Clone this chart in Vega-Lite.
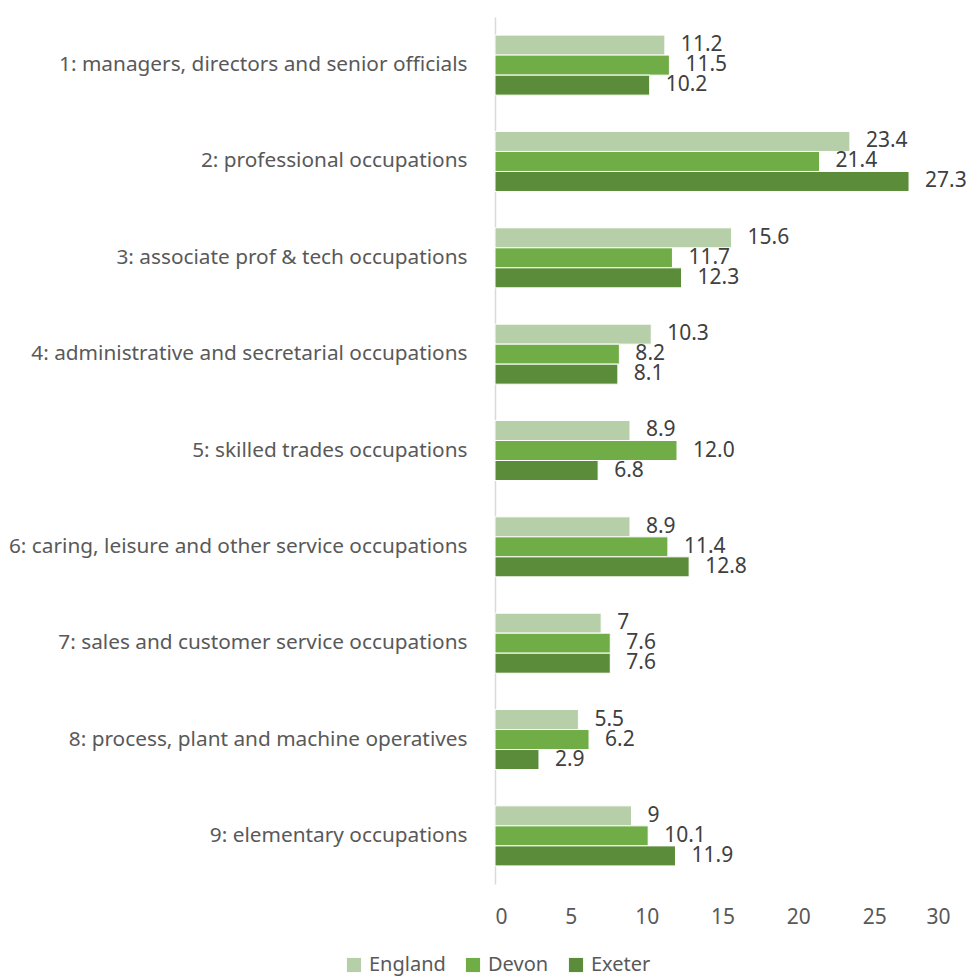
{
  "$schema": "https://vega.github.io/schema/vega-lite/v6.json",
  "width": 455,
  "height": 867,
  "autosize": "none",
  "padding": {"left": 495, "top": 17, "right": 17, "bottom": 94},
  "background": "white",
  "data": {
    "values": [
      {"occupation": "1: managers, directors and senior officials", "area": "England", "value": 11.2, "label": "11.2"},
      {"occupation": "1: managers, directors and senior officials", "area": "Devon", "value": 11.5, "label": "11.5"},
      {"occupation": "1: managers, directors and senior officials", "area": "Exeter", "value": 10.2, "label": "10.2"},
      {"occupation": "2: professional occupations", "area": "England", "value": 23.4, "label": "23.4"},
      {"occupation": "2: professional occupations", "area": "Devon", "value": 21.4, "label": "21.4"},
      {"occupation": "2: professional occupations", "area": "Exeter", "value": 27.3, "label": "27.3"},
      {"occupation": "3: associate prof & tech occupations", "area": "England", "value": 15.6, "label": "15.6"},
      {"occupation": "3: associate prof & tech occupations", "area": "Devon", "value": 11.7, "label": "11.7"},
      {"occupation": "3: associate prof & tech occupations", "area": "Exeter", "value": 12.3, "label": "12.3"},
      {"occupation": "4: administrative and secretarial occupations", "area": "England", "value": 10.3, "label": "10.3"},
      {"occupation": "4: administrative and secretarial occupations", "area": "Devon", "value": 8.2, "label": "8.2"},
      {"occupation": "4: administrative and secretarial occupations", "area": "Exeter", "value": 8.1, "label": "8.1"},
      {"occupation": "5: skilled trades occupations", "area": "England", "value": 8.9, "label": "8.9"},
      {"occupation": "5: skilled trades occupations", "area": "Devon", "value": 12.0, "label": "12.0"},
      {"occupation": "5: skilled trades occupations", "area": "Exeter", "value": 6.8, "label": "6.8"},
      {"occupation": "6: caring, leisure and other service occupations", "area": "England", "value": 8.9, "label": "8.9"},
      {"occupation": "6: caring, leisure and other service occupations", "area": "Devon", "value": 11.4, "label": "11.4"},
      {"occupation": "6: caring, leisure and other service occupations", "area": "Exeter", "value": 12.8, "label": "12.8"},
      {"occupation": "7: sales and customer service occupations", "area": "England", "value": 7, "label": "7"},
      {"occupation": "7: sales and customer service occupations", "area": "Devon", "value": 7.6, "label": "7.6"},
      {"occupation": "7: sales and customer service occupations", "area": "Exeter", "value": 7.6, "label": "7.6"},
      {"occupation": "8: process, plant and machine operatives", "area": "England", "value": 5.5, "label": "5.5"},
      {"occupation": "8: process, plant and machine operatives", "area": "Devon", "value": 6.2, "label": "6.2"},
      {"occupation": "8: process, plant and machine operatives", "area": "Exeter", "value": 2.9, "label": "2.9"},
      {"occupation": "9: elementary occupations", "area": "England", "value": 9, "label": "9"},
      {"occupation": "9: elementary occupations", "area": "Devon", "value": 10.1, "label": "10.1"},
      {"occupation": "9: elementary occupations", "area": "Exeter", "value": 11.9, "label": "11.9"}
    ]
  },
  "encoding": {
    "y": {
      "field": "occupation",
      "type": "nominal",
      "sort": null,
      "title": null,
      "scale": {"paddingInner": 0.377, "paddingOuter": 0.188},
      "axis": {
        "ticks": false,
        "domainColor": "#d9d9d9",
        "domainWidth": 1.5,
        "labelFont": "Noto Sans",
        "labelFontSize": 20.8,
        "labelColor": "#595959",
        "labelPadding": 28,
        "labelLimit": 600
      }
    },
    "yOffset": {
      "field": "area",
      "type": "nominal",
      "sort": ["England", "Devon", "Exeter"]
    },
    "x": {
      "field": "value",
      "type": "quantitative",
      "title": null,
      "scale": {"domain": [0, 30]},
      "axis": {
        "values": [0, 5, 10, 15, 20, 25, 30],
        "grid": false,
        "domain": false,
        "ticks": false,
        "labelFont": "Noto Sans",
        "labelFontSize": 21,
        "labelColor": "#595959",
        "labelPadding": 22
      }
    }
  },
  "layer": [
    {
      "mark": {"type": "bar", "stroke": "white", "strokeWidth": 1},
      "encoding": {
        "color": {
          "field": "area",
          "type": "nominal",
          "sort": ["England", "Devon", "Exeter"],
          "scale": {"domain": ["England", "Devon", "Exeter"], "range": ["#b6cfa8", "#70ad47", "#5b8c3a"]},
          "legend": {
            "title": null,
            "orient": "none",
            "legendX": -151,
            "legendY": 938,
            "direction": "horizontal",
            "symbolType": "square",
            "symbolSize": 200,
            "symbolStrokeWidth": 0,
            "labelFont": "Noto Sans",
            "labelFontSize": 20,
            "labelColor": "#595959",
            "columnPadding": 17,
            "labelOffset": 5
          }
        }
      }
    },
    {
      "mark": {
        "type": "text",
        "align": "left",
        "baseline": "middle",
        "dx": 16,
        "font": "Noto Sans",
        "fontSize": 21,
        "color": "#404040"
      },
      "encoding": {
        "text": {"field": "label", "type": "nominal"}
      }
    }
  ],
  "config": {"view": {"stroke": null}}
}
